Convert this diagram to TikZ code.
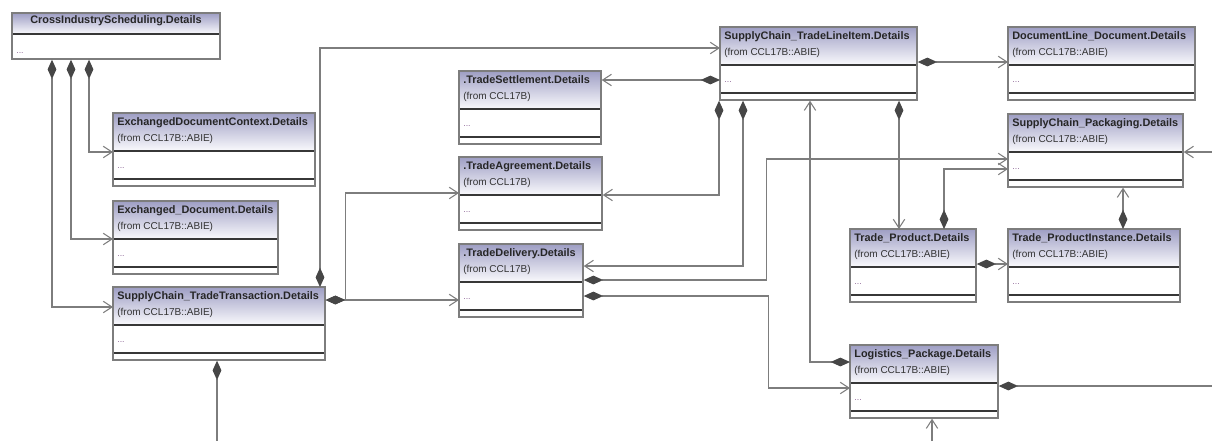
\documentclass[tikz,border=0pt]{standalone}
\usepackage{fontspec}
\setmainfont{Liberation Sans}
\usepackage{tikz}
\usetikzlibrary{arrows.meta}
\usepackage{xcolor}
\definecolor{hdrtop}{RGB}{158,158,196}
\definecolor{hdrbot}{RGB}{250,250,253}
\definecolor{framec}{RGB}{125,125,125}
\definecolor{sepc}{RGB}{55,55,55}
\definecolor{linec}{RGB}{125,125,125}
\definecolor{diag}{RGB}{70,70,70}
\definecolor{dotc}{RGB}{140,100,150}

\begin{document}
\begin{tikzpicture}[x=0.02cm, y=-0.02cm,
  classbox/.style={inner sep=0pt, minimum height=1.46cm, anchor=north west},
  hdrshade/.style={top color=hdrtop, bottom color=hdrbot},
  boxframe/.style={draw=framec, line width=0.6pt},
  clssep/.style={draw=sepc, line width=0.8pt},
  clstitle/.style={anchor=base west, inner sep=0pt, text=black!85, font=\fontsize{6.2}{7}\selectfont\bfseries},
  clssrc/.style={anchor=base west, inner sep=0pt, text=black!80, font=\fontsize{5.7}{7}\selectfont},
  clsdots/.style={anchor=base west, inner sep=0pt, text=dotc, font=\fontsize{5}{6}\selectfont},
  comp/.style={draw=linec, line width=0.6pt, arrows={Diamond[length=11pt,width=5pt,color=diag]-Straight Barb[length=5pt,width=6.5pt]}},
  compend/.style={draw=linec, line width=0.6pt, arrows={Diamond[length=11pt,width=5pt,color=diag]-}},
  assoc/.style={draw=linec, line width=0.6pt, arrows={-Straight Barb[length=5pt,width=6.5pt]}}]
\useasboundingbox (0,0) rectangle (1212,441);

% root class, title only
\node[inner sep=0pt, minimum width=4.16cm, minimum height=0.92cm, anchor=north west] (cis) at (12,13) {};
\shade[hdrshade] (12,13) rectangle (220,34);
\draw[clssep] (12,34) -- (220,34);
\draw[boxframe] (12,13) rectangle (220,59);
\node[clstitle, anchor=base] (cis-t) at (116,23) {CrossIndustryScheduling.Details};
\node[clsdots] (cis-d) at (16,53) {...};

% the other classes
\foreach \nm/\x/\y/\w/\ttl/\src in {
  edc/113/113/202/ExchangedDocumentContext.Details/CCL17B::ABIE,
  exd/113/201/165/Exchanged\_Document.Details/CCL17B::ABIE,
  trn/113/287/212/SupplyChain\_TradeTransaction.Details/CCL17B::ABIE,
  tse/459/71/142/.TradeSettlement.Details/CCL17B,
  tag/459/157/143/.TradeAgreement.Details/CCL17B,
  tdl/459/244/124/.TradeDelivery.Details/CCL17B,
  tli/720/27/197/SupplyChain\_TradeLineItem.Details/CCL17B::ABIE,
  dld/1008/27/187/DocumentLine\_Document.Details/CCL17B::ABIE,
  pkg/1008/114/175/SupplyChain\_Packaging.Details/CCL17B::ABIE,
  tpr/850/229/126/Trade\_Product.Details/CCL17B::ABIE,
  tpi/1008/229/172/Trade\_ProductInstance.Details/CCL17B::ABIE,
  lpk/850/345/148/Logistics\_Package.Details/CCL17B::ABIE}
{
  \node[classbox, minimum width={\w*0.02cm}] (\nm) at (\x,\y) {};
  \shade[hdrshade] (\x,\y) rectangle (\x+\w,\y+38);
  \draw[clssep] (\x,\y+38) -- (\x+\w,\y+38) (\x,\y+66) -- (\x+\w,\y+66);
  \draw[boxframe] (\x,\y) rectangle (\x+\w,\y+73);
  \node[clstitle] (\nm-t) at (\x+4,\y+12) {\ttl};
  \node[clssrc] (\nm-s) at (\x+4,\y+28) {(from \src)};
  \node[clsdots] (\nm-d) at (\x+4,\y+55) {...};
}

% CrossIndustryScheduling
\draw[comp] (cis.south -| 52,0) |- (trn.west |- 0,307);
\draw[comp] (cis.south -| 71,0) |- (exd.west |- 0,239);
\draw[comp] (cis.south -| 89,0) |- (edc.west |- 0,152);

% SupplyChain_TradeTransaction
\draw[comp] (trn.north -| 320,0) |- (tli.west |- 0,48);
\draw[comp] (trn.east |- 0,300) -- (tdl.west |- 0,300);
\draw[comp] (trn.east |- 0,300) -- ++(20,0) |- (tag.west |- 0,193);
\coordinate (trnout) at (217,441);
\draw[compend] (trn.south -| 217,0) -- (trnout);

% SupplyChain_TradeLineItem
\draw[comp] (tli.west |- 0,80) -- (tse.east |- 0,80);
\draw[comp] (tli.south -| 719,0) |- (tag.east |- 0,195);
\draw[comp] (tli.south -| 743,0) |- (tdl.east |- 0,266);
\draw[comp] (tli.east |- 0,62) -- (dld.west |- 0,62);
\draw[comp] (tli.south -| 899,0) -- (tpr.north -| 899,0);

% TradeDelivery
\draw[comp] (tdl.east |- 0,280) -- ++(183,0) |- (pkg.west |- 0,159);
\draw[comp] (tdl.east |- 0,296) -- ++(185,0) |- (lpk.west |- 0,388);

% Logistics_Package
\draw[comp] (lpk.west |- 0,362) -| (tli.south -| 810,0);
\coordinate (lpkout) at (1212,386);
\draw[compend] (lpk.east |- 0,386) -- (lpkout);
\coordinate (lpkin) at (932,441);
\draw[assoc] (lpkin) -- (lpk.south -| 932,0);

% Trade_Product and packaging
\draw[comp] (tpr.north -| 944,0) |- (pkg.west |- 0,169);
\draw[comp] (tpr.east |- 0,264) -- (tpi.west |- 0,264);
\draw[comp] (tpi.north -| 1123,0) -- (pkg.south -| 1123,0);
\coordinate (pkgin) at (1212,152);
\draw[assoc] (pkgin) -- (pkg.east |- 0,152);
\end{tikzpicture}
\end{document}
